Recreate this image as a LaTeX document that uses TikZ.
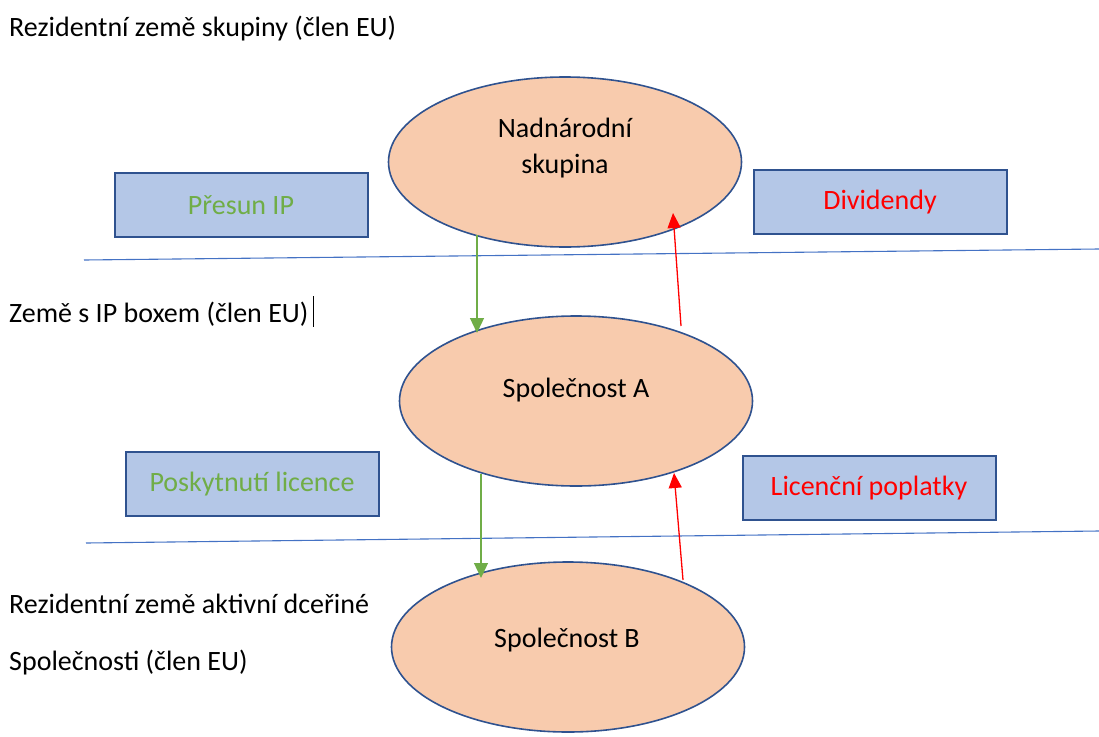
\documentclass[tikz,border=0pt]{standalone}
\usepackage{fontspec}
\setmainfont{Carlito}
\usetikzlibrary{shapes.geometric,arrows.meta,calc}
\definecolor{egfill}{RGB}{248,203,173}
\definecolor{egline}{RGB}{47,82,143}
\definecolor{boxfill}{RGB}{180,199,231}
\definecolor{sepline}{RGB}{68,114,196}
\definecolor{flowgreen}{RGB}{112,173,71}
\definecolor{flowred}{RGB}{255,0,0}
\tikzset{
  entity/.style={ellipse, draw=egline, line width=1.6pt, fill=egfill,
    minimum width=353pt, minimum height=170pt, inner sep=0pt},
  flowbox/.style={rectangle, draw=egline, line width=2pt, fill=boxfill,
    minimum width=253pt, minimum height=64pt, inner sep=0pt,
    font=\fontsize{28}{34}\selectfont},
  plain/.style={font=\fontsize{28}{34}\selectfont, inner sep=0pt},
  zone/.style={plain, anchor=base west},
  sep/.style={draw=sepline, line width=1.1pt},
  ipflow/.style={draw=flowgreen, line width=1.3pt,
    -{Triangle[length=15pt,width=14pt]}},
  payflow/.style={draw=flowred, line width=1.3pt,
    -{Triangle[length=15pt,width=13pt]}}
}
\begin{document}
\begin{tikzpicture}[x=1pt,y=-1pt]
\useasboundingbox (0,0) rectangle (1099,736);

% country zones and their borders
\node[zone] (z1) at (9,36) {Rezidentní země skupiny (člen EU)};
\node[zone] (z2) at (9,322) {Země s IP boxem (člen EU)};
\node[zone] (z3a) at (9,613) {Rezidentní země aktivní dceřiné};
\node[zone] (z3b) at (9,670) {Společnosti (člen EU)};
\draw[line width=0.8pt] (313,296) -- (313,327);

\coordinate (s1a) at (84,260);
\coordinate (s1b) at (1099,249);
\coordinate (s2a) at (86,543);
\coordinate (s2b) at (1099,531);
\path[sep] (s1a) -- (s1b);
\path[sep] (s2a) -- (s2b);

% companies
\node[entity] (grp) at (565,162) {};
\node[plain, align=center] (grpt) at (565,148) {Nadnárodní\\[2pt]skupina};
\node[entity] (ca) at (576,401) {};
\node[plain] (cat) at (576,390) {Společnost A};
\node[entity] (cb) at (568,647) {};
\node[plain] (cbt) at (567,640) {Společnost B};

% flow labels
\node[flowbox, text=flowgreen] (b1) at (241,205) {Přesun IP};
\node[flowbox, text=flowred] (b2) at (880,202) {Dividendy};
\node[flowbox, text=flowgreen] (b3) at (252,484) {Poskytnutí licence};
\node[flowbox, text=flowred] (b4) at (869,488) {Licenční poplatky};

% ends of the flows on the company outlines
\coordinate (gOut) at ($(grp.center)+(-88,73)$);
\coordinate (gIn)  at ($(grp.center)+(108,51)$);
\coordinate (aTop) at ($(ca.center)+(-99,-68)$);
\coordinate (aUp)  at ($(ca.center)+(105,-75)$);
\coordinate (aOut) at ($(ca.center)+(-95,73)$);
\coordinate (aIn)  at ($(ca.center)+(98,72)$);
\coordinate (bTop) at ($(cb.center)+(-87,-69)$);
\coordinate (bUp)  at ($(cb.center)+(115,-67)$);

% flows between the companies
\path[ipflow] (gOut) -- (aTop);
\path[payflow] (aUp) -- (gIn);
\path[ipflow] (aOut) -- (bTop);
\path[payflow] (bUp) -- (aIn);
\end{tikzpicture}
\end{document}
